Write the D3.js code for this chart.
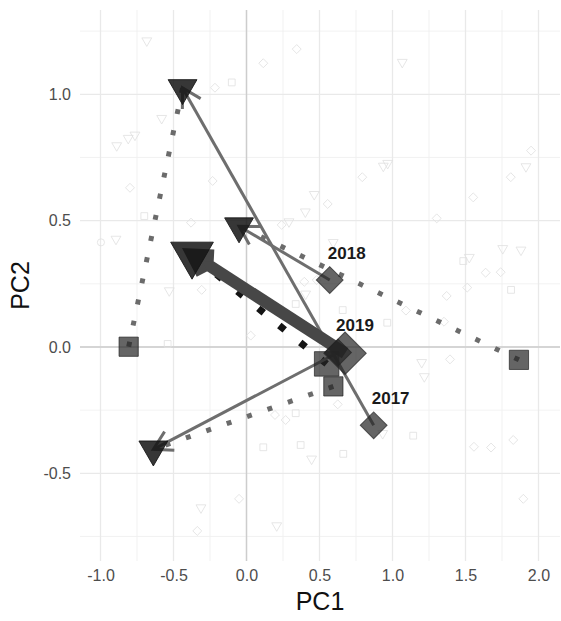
<!DOCTYPE html>
<html>
<head>
<meta charset="utf-8">
<script src="https://cdn.jsdelivr.net/npm/d3@7"></script>
<style>
  body { margin: 0; background: #fff; }
  text { font-family: "Liberation Sans", Arial, sans-serif; }
</style>
</head>
<body>
<div class="canvas"></div>
<script>
// trajectories: diamond = start, square = alternative start, triangle = end
const years = ["2017", "2018", "2019", "mean"]
const startPC1 = [0.871, 0.570, 0.627, 0.675]
const startPC2 = [-0.310, 0.265, -0.022, -0.025]
const squarePC1 = [-0.807, 1.866, 0.595, 0.549]
const squarePC2 = [0.001, -0.051, -0.156, -0.067]
const endPC1 = [-0.438, -0.051, -0.638, -0.373]
const endPC2 = [1.025, 0.478, -0.405, 0.366]

// faint background observations
const obsTriPC1 = [-0.683, -0.581, -0.889, -0.810, -0.764, 0.464, 0.403, 1.067, 1.914, 0.937, 0.967, 0.291, -0.894, -0.529, 0.405, 0.594, 1.755, 1.880, 1.526, 1.200, 1.218, 0.446, -0.312, 0.207, 0.933]
const obsTriPC2 = [1.212, 0.905, 0.797, 0.826, 0.839, 0.604, 0.535, 1.127, 0.714, 0.716, 0.727, 0.496, 0.427, 0.223, 0.210, 0.414, 0.390, 0.384, 0.355, -0.061, -0.117, -0.443, -0.636, -0.707, -0.342]
const obsDiaPC1 = [0.344, 0.115, -0.216, -0.798, -0.232, 1.949, 1.810, 0.793, 0.556, 1.553, 1.303, -0.380, 0.241, -0.307, 0.396, 0.481, 0.029, 1.638, 1.741, 1.512, 1.371, 1.092, 1.353, 1.394, 0.195, 0.268, -0.051, -0.337, 0.625, 1.558, 1.675, 1.827, 1.896]
const obsDiaPC2 = [1.179, 1.123, 1.026, 0.630, 0.657, 0.777, 0.672, 0.672, 0.566, 0.592, 0.509, 0.492, 0.483, 0.226, 0.258, 0.265, 0.045, 0.294, 0.296, 0.235, 0.202, 0.144, 0.100, -0.049, -0.269, -0.289, -0.601, -0.728, -0.227, -0.395, -0.398, -0.368, -0.601]
const obsSqPC1 = [-0.101, -0.700, 0.337, -0.540, 1.485, 1.812, 0.659, 0.964, 0.337, 0.115, 0.371, 0.663, 1.142]
const obsSqPC2 = [1.047, 0.518, 0.170, 0.012, 0.340, 0.226, 0.146, 0.096, -0.262, -0.397, -0.388, -0.423, -0.351]
const obsCirPC1 = [-0.997]
const obsCirPC2 = [0.414]

// ticks
const xTicks = [-1, -0.5, 0, 0.5, 1, 1.5, 2]
const xTickLabels = ["-1.0", "-0.5", "0.0", "0.5", "1.0", "1.5", "2.0"]
const xMinor = [-0.75, -0.25, 0.25, 0.75, 1.25, 1.75]
const yTicks = [-0.5, 0, 0.5, 1]
const yTickLabels = ["-0.5", "0.0", "0.5", "1.0"]
const yMinor = [-0.75, -0.25, 0.25, 0.75, 1.25]

/**
 * Dimensions
 */
const dims = { width: 561, height: 621 }
const panel = { left: 80, right: 560, top: 10, bottom: 561 }

const svg = d3.select(".canvas")
    .append("svg")
    .attr("width", dims.width)
    .attr("height", dims.height)

const x = d3.scaleLinear().domain([-1.1404, 2.1473]).range([panel.left, panel.right])
const y = d3.scaleLinear().domain([-0.847, 1.3336]).range([panel.bottom, panel.top])

// arrow heads (open, 30 degrees)
const defs = svg.append("defs")
const addArrow = (id, len, width, color) => {
    const dx = len * Math.cos(Math.PI / 6), dy = len * Math.sin(Math.PI / 6)
    defs.append("marker")
        .attr("id", id)
        .attr("markerUnits", "userSpaceOnUse")
        .attr("markerWidth", 1).attr("markerHeight", 1)
        .attr("refX", 0).attr("refY", 0)
        .attr("orient", "auto")
        .style("overflow", "visible")
      .append("path")
        .attr("d", `M${-dx},${-dy}L0,0L${-dx},${dy}`)
        .attr("fill", "none")
        .attr("stroke", color)
        .attr("stroke-width", width)
}
addArrow("arrow", 21, 3, "#6e6e6e")
addArrow("arrowThick", 22, 12, "#474747")

/**
 * Grid
 */
const grid = svg.append("g")
grid.selectAll(".xminor").data(xMinor).enter().append("line")
    .attr("x1", d => x(d)).attr("x2", d => x(d))
    .attr("y1", panel.top).attr("y2", panel.bottom)
    .attr("stroke", "#efefef").attr("stroke-width", 0.8)
grid.selectAll(".yminor").data(yMinor).enter().append("line")
    .attr("y1", d => y(d)).attr("y2", d => y(d))
    .attr("x1", panel.left).attr("x2", panel.right)
    .attr("stroke", "#efefef").attr("stroke-width", 0.8)
grid.selectAll(".xmajor").data(xTicks).enter().append("line")
    .attr("x1", d => x(d)).attr("x2", d => x(d))
    .attr("y1", panel.top).attr("y2", panel.bottom)
    .attr("stroke", "#e9e9e9").attr("stroke-width", 1.3)
grid.selectAll(".ymajor").data(yTicks).enter().append("line")
    .attr("y1", d => y(d)).attr("y2", d => y(d))
    .attr("x1", panel.left).attr("x2", panel.right)
    .attr("stroke", "#e9e9e9").attr("stroke-width", 1.3)

// zero lines
grid.append("line")
    .attr("x1", x(0)).attr("x2", x(0)).attr("y1", panel.top).attr("y2", panel.bottom)
    .attr("stroke", "#cdcdcd").attr("stroke-width", 1.4)
grid.append("line")
    .attr("y1", y(0)).attr("y2", y(0)).attr("x1", panel.left).attr("x2", panel.right)
    .attr("stroke", "#cdcdcd").attr("stroke-width", 1.4)

/**
 * Axes
 */
const xAxis = svg.append("g")
    .attr("transform", `translate(0, ${panel.bottom})`)
    .call(d3.axisBottom(x).tickValues(xTicks).tickFormat((d, i) => xTickLabels[i]).tickSize(0).tickPadding(9))
const yAxis = svg.append("g")
    .attr("transform", `translate(${panel.left}, 0)`)
    .call(d3.axisLeft(y).tickValues(yTicks).tickFormat((d, i) => yTickLabels[i]).tickSize(0).tickPadding(9))
svg.selectAll(".domain").remove()
svg.selectAll(".tick text")
    .attr("fill", "#4d4d4d")
    .style("font-size", "16px")
    .style("font-family", "Liberation Sans, Arial, sans-serif")

svg.append("text")
    .attr("x", (panel.left + panel.right) / 2)
    .attr("y", 610)
    .attr("text-anchor", "middle")
    .attr("fill", "#111")
    .style("font-size", "25px")
    .text("PC1")
svg.append("text")
    .attr("transform", `translate(29, ${(panel.top + panel.bottom) / 2}) rotate(-90)`)
    .attr("text-anchor", "middle")
    .attr("fill", "#111")
    .style("font-size", "25px")
    .text("PC2")

/**
 * Faint observations
 */
const obs = svg.append("g")
    .attr("fill", "none")
    .attr("stroke", "#e0e0e0")
    .attr("stroke-width", 0.8)
const faint = (xs, ys, type, size, rot) => {
    obs.selectAll(null).data(xs).enter().append("path")
        .attr("d", d3.symbol(type, size))
        .attr("transform", (d, i) => `translate(${x(d)}, ${y(ys[i])}) rotate(${rot})`)
}
faint(obsTriPC1, obsTriPC2, d3.symbolTriangle, 42, 180)
faint(obsDiaPC1, obsDiaPC2, d3.symbolSquare, 40, 45)
faint(obsSqPC1, obsSqPC2, d3.symbolSquare, 46, 0)
faint(obsCirPC1, obsCirPC2, d3.symbolCircle, 40, 0)

/**
 * Trajectories
 */
const idx = years.map((d, i) => i)
const yearIdx = idx.slice(0, 3)
const meanIdx = 3
const lines = svg.append("g")

// dotted: square -> triangle
lines.selectAll(".dot").data(yearIdx).enter().append("line")
    .attr("x1", i => x(squarePC1[i])).attr("y1", i => y(squarePC2[i]))
    .attr("x2", i => x(endPC1[i])).attr("y2", i => y(endPC2[i]))
    .attr("stroke", "#6b6b6b")
    .attr("stroke-width", 5)
    .attr("stroke-dasharray", "5 16.6")
lines.append("line")
    .attr("x1", x(squarePC1[meanIdx])).attr("y1", y(squarePC2[meanIdx]))
    .attr("x2", x(endPC1[meanIdx])).attr("y2", y(endPC2[meanIdx]))
    .attr("stroke", "#141414")
    .attr("stroke-width", 7)
    .attr("stroke-dasharray", "7 20")

// solid: diamond -> triangle
lines.selectAll(".solid").data(yearIdx).enter().append("line")
    .attr("x1", i => x(startPC1[i])).attr("y1", i => y(startPC2[i]))
    .attr("x2", i => x(endPC1[i])).attr("y2", i => y(endPC2[i]))
    .attr("stroke", "#6e6e6e")
    .attr("stroke-width", 3)
    .attr("marker-end", "url(#arrow)")
lines.append("line")
    .attr("x1", x(startPC1[meanIdx])).attr("y1", y(startPC2[meanIdx]))
    .attr("x2", x(endPC1[meanIdx])).attr("y2", y(endPC2[meanIdx]))
    .attr("stroke", "#474747")
    .attr("stroke-width", 12)
    .attr("marker-end", "url(#arrowThick)")

/**
 * Shapes
 */
const shapes = svg.append("g")
const shape = (xs, ys, type, sizeFn, rot, fill, alpha) => {
    shapes.selectAll(null).data(idx).enter().append("path")
        .attr("d", i => d3.symbol(type, sizeFn(i))())
        .attr("transform", i => `translate(${x(xs[i])}, ${y(ys[i])}) rotate(${rot})`)
        .attr("fill", fill)
        .attr("fill-opacity", alpha)
        .attr("stroke", fill)
        .attr("stroke-opacity", alpha)
        .attr("stroke-width", 1)
}
shape(squarePC1, squarePC2, d3.symbolSquare, i => i === meanIdx ? 600 : 370, 0, "#242424", 0.7)
shape(startPC1, startPC2, d3.symbolSquare, i => i === meanIdx ? 900 : 360, 45, "#242424", 0.7)
shape(endPC1, endPC2, d3.symbolTriangle, i => i === meanIdx ? 790 : 360, 180, "#141414", 0.85)

// year labels
svg.selectAll(".label").data(yearIdx).enter().append("text")
    .attr("x", i => x(startPC1[i]) + 17)
    .attr("y", i => y(startPC2[i]) - 27)
    .attr("dy", "0.35em")
    .attr("text-anchor", "middle")
    .attr("fill", "#1a1a1a")
    .style("font-size", "17px")
    .style("font-weight", "bold")
    .text(i => years[i])
</script>
</body>
</html>
